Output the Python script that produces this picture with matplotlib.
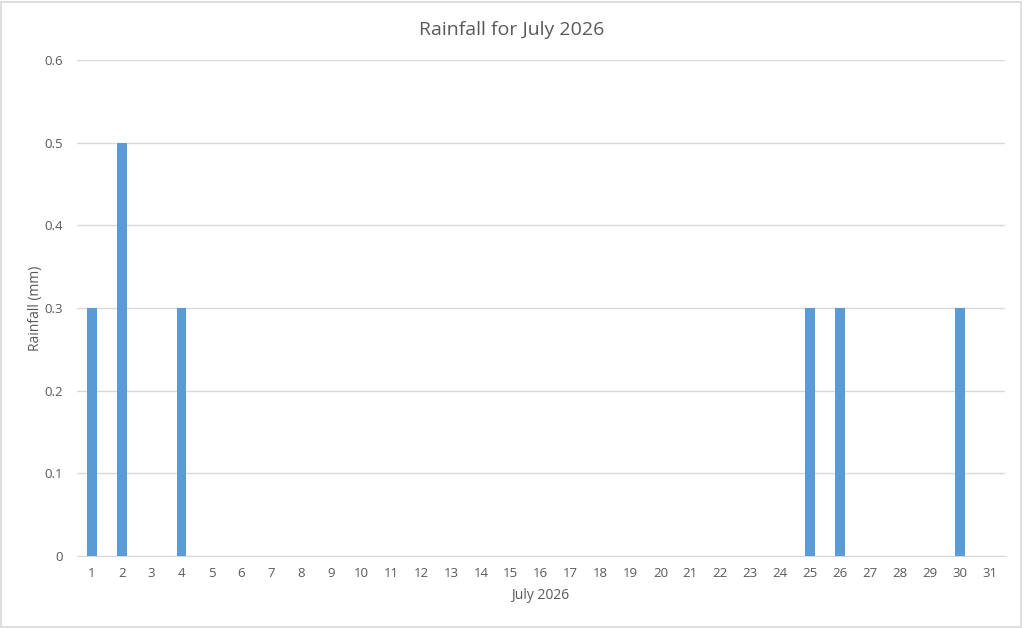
import numpy as np
import matplotlib.pyplot as plt
from matplotlib.patches import Rectangle

days = list(range(1, 32))
rain_days = [1, 2, 4, 25, 26, 30]
rain_mm = [0.3, 0.5, 0.3, 0.3, 0.3, 0.3]

TEXT = "#595959"
GRID = "#D9D9D9"
BAR = "#5B9BD5"

plt.rcParams.update({"font.family": ["Open Sans", "DejaVu Sans"]})

values = np.zeros(len(days))
for d, v in zip(rain_days, rain_mm):
    values[days.index(d)] = v

fig = plt.figure(figsize=(10.24, 6.28), dpi=100)
ax = fig.add_axes([0.075, 0.1146, 0.906, 0.7898])

x = np.arange(len(days))
ax.bar(x, values, width=0.33, color=BAR, zorder=3)

ax.set_xlim(-0.5, len(days) - 0.5)
ax.set_ylim(0, 0.6)
ax.set_yticks(np.arange(0, 0.61, 0.1))
ax.set_yticklabels(["0", "0.1", "0.2", "0.3", "0.4", "0.5", "0.6"])
ax.set_xticks(x)
ax.set_xticklabels([str(d) for d in days])

ax.grid(axis="y", color=GRID, linewidth=1.0, zorder=0)
for s in ["top", "right", "left"]:
    ax.spines[s].set_visible(False)
ax.spines["bottom"].set_color(GRID)
ax.tick_params(axis="both", length=0, colors=TEXT, labelsize=9.5)
ax.tick_params(axis="y", pad=10)
ax.tick_params(axis="x", pad=8)

fig.suptitle("Rainfall for July 2026", color=TEXT, fontsize=14, x=0.5, y=0.953, va="center")
ax.set_xlabel("July 2026", color=TEXT, fontsize=10, labelpad=6)
ax.set_ylabel("Rainfall (mm)", color=TEXT, fontsize=10, labelpad=1)

fig.patches.append(Rectangle((0.001, 0.002), 0.996, 0.995, transform=fig.transFigure,
                             fill=False, edgecolor="#D9D9D9", linewidth=1.2))

fig.savefig("out.png", dpi=100)
